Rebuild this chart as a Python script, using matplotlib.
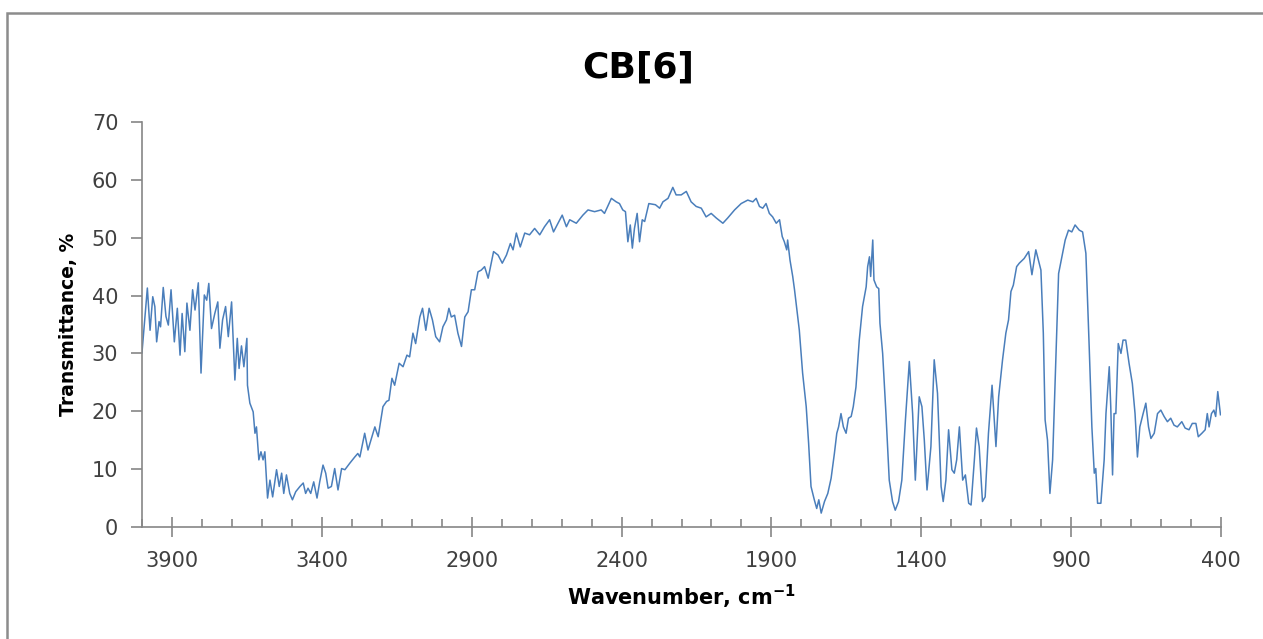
import matplotlib
matplotlib.use("Agg")
import matplotlib.pyplot as plt
from matplotlib.patches import Rectangle
from matplotlib.ticker import MultipleLocator, FixedLocator

plt.rcParams["font.family"] = "DejaVu Sans"
plt.rcParams["mathtext.fontset"] = "dejavusans"

# IR spectrum of CB[6] (wavenumber, %T)
wavenumber = [
    4000, 3982, 3973, 3964, 3957, 3951, 3943, 3938, 3929, 3920, 3912, 3903, 3892, 3882,
    3873, 3866, 3857, 3850, 3840, 3831, 3823, 3812, 3803, 3792, 3784, 3777, 3768, 3757,
    3747, 3740, 3731, 3721, 3712, 3701, 3690, 3682, 3676, 3668, 3660, 3650, 3648, 3640,
    3629, 3623, 3618, 3610, 3603, 3596, 3590, 3581, 3573, 3564, 3551, 3542, 3534, 3527,
    3518, 3507, 3498, 3487, 3473, 3462, 3454, 3446, 3437, 3427, 3416, 3407, 3396, 3387,
    3379, 3368, 3357, 3346, 3334, 3323, 3307, 3290, 3280, 3273, 3257, 3246, 3223, 3212,
    3196, 3184, 3176, 3166, 3157, 3142, 3129, 3116, 3107, 3096, 3087, 3073, 3064, 3053,
    3042, 3031, 3020, 3007, 2996, 2984, 2976, 2968, 2957, 2946, 2934, 2923, 2912, 2901,
    2890, 2879, 2868, 2857, 2845, 2827, 2812, 2798, 2784, 2771, 2762, 2751, 2738, 2723,
    2707, 2690, 2673, 2657, 2640, 2627, 2612, 2598, 2584, 2573, 2551, 2529, 2512, 2490,
    2468, 2457, 2434, 2418, 2407, 2396, 2387, 2379, 2371, 2364, 2357, 2348, 2340, 2331,
    2323, 2309, 2287, 2273, 2262, 2245, 2229, 2218, 2201, 2184, 2168, 2151, 2134, 2118,
    2101, 2084, 2062, 2046, 2023, 2001, 1979, 1962, 1951, 1940, 1929, 1918, 1907, 1896,
    1884, 1873, 1864, 1857, 1849, 1846, 1838, 1829, 1823, 1807, 1796, 1784, 1776, 1768,
    1757, 1749, 1742, 1734, 1723, 1712, 1701, 1690, 1682, 1676, 1668, 1660, 1651, 1643,
    1634, 1627, 1618, 1607, 1596, 1584, 1579, 1573, 1569, 1562, 1558, 1549, 1542, 1538,
    1529, 1518, 1507, 1496, 1487, 1476, 1465, 1453, 1440, 1429, 1420, 1407, 1398, 1390,
    1381, 1368, 1357, 1346, 1334, 1327, 1318, 1309, 1298, 1290, 1282, 1273, 1262, 1253,
    1242, 1234, 1223, 1216, 1207, 1196, 1187, 1176, 1164, 1151, 1142, 1129, 1118, 1109,
    1101, 1093, 1082, 1073, 1057, 1042, 1031, 1018, 1001, 993, 987, 979, 971, 962,
    951, 942, 931, 920, 909, 898, 887, 873, 862, 851, 840, 831, 823, 818,
    812, 801, 790, 784, 773, 768, 762, 757, 751, 743, 734, 727, 718, 707,
    696, 687, 679, 671, 660, 651, 642, 634, 623, 612, 601, 590, 579, 568,
    557, 546, 531, 520, 507, 496, 484, 476, 464, 453, 446, 440, 432, 424,
    418, 411, 402,
]
transmittance = [
    30.1, 41.3, 34.0, 39.8, 38.1, 32.0, 35.5, 34.6, 41.4, 36.4, 34.9, 41.0, 32.0, 37.8,
    29.7, 36.9, 30.3, 38.7, 34.0, 41.0, 37.5, 42.2, 26.6, 40.1, 39.2, 42.1, 34.3, 36.9,
    38.9, 30.9, 35.8, 38.1, 32.9, 38.9, 25.4, 32.6, 27.4, 31.3, 27.7, 32.6, 24.5, 21.4,
    19.9, 16.2, 17.3, 11.6, 13.0, 11.6, 13.0, 5.0, 8.1, 5.2, 9.9, 7.0, 9.3, 5.8,
    9.0, 5.8, 4.7, 6.1, 7.0, 7.6, 5.8, 6.7, 5.8, 7.8, 5.0, 7.8, 10.7, 9.3,
    6.7, 7.0, 10.1, 6.4, 10.1, 9.9, 11.0, 12.1, 12.7, 12.1, 16.2, 13.3, 17.3, 15.6,
    20.8, 21.7, 21.9, 25.7, 24.5, 28.3, 27.7, 29.7, 29.4, 33.5, 31.7, 36.3, 37.8, 34.0,
    37.8, 35.8, 32.9, 32.0, 34.6, 35.8, 37.8, 36.3, 36.6, 33.5, 31.2, 36.3, 37.2, 41.0,
    41.0, 44.1, 44.4, 45.0, 43.0, 47.6, 47.0, 45.6, 47.0, 49.0, 47.9, 50.8, 48.4, 50.8,
    50.5, 51.6, 50.5, 51.9, 53.1, 51.0, 52.5, 53.9, 51.9, 53.1, 52.5, 53.9, 54.8, 54.5,
    54.8, 54.2, 56.8, 56.2, 55.9, 54.8, 54.5, 49.3, 52.2, 48.2, 51.6, 54.2, 49.3, 53.1,
    52.8, 55.9, 55.7, 55.1, 56.2, 56.8, 58.7, 57.4, 57.4, 58.0, 56.2, 55.4, 55.1, 53.6,
    54.2, 53.4, 52.5, 53.4, 54.8, 55.9, 56.5, 56.2, 56.8, 55.4, 55.1, 55.9, 54.2, 53.6,
    52.5, 53.1, 50.2, 49.3, 47.9, 49.6, 46.1, 43.3, 41.0, 34.0, 26.6, 20.8, 14.5, 7.0,
    4.7, 3.2, 4.7, 2.4, 4.4, 5.8, 8.4, 12.7, 16.2, 17.3, 19.6, 17.3, 16.2, 18.8,
    19.1, 20.8, 24.2, 32.3, 38.1, 41.5, 45.0, 46.7, 43.3, 49.6, 42.7, 41.5, 41.2, 35.2,
    30.0, 19.6, 8.1, 4.4, 2.9, 4.4, 8.1, 18.5, 28.6, 19.6, 8.1, 22.5, 20.8, 15.0,
    6.4, 13.9, 28.9, 23.1, 7.0, 4.4, 8.1, 16.8, 9.9, 9.3, 11.6, 17.3, 8.1, 9.0,
    4.1, 3.8, 11.6, 17.1, 13.9, 4.4, 5.2, 16.2, 24.5, 13.9, 22.5, 28.9, 33.5, 35.8,
    40.7, 41.8, 45.0, 45.6, 46.4, 47.6, 43.6, 47.9, 44.4, 33.5, 18.5, 15.0, 5.8, 11.6,
    29.4, 43.8, 46.7, 49.6, 51.3, 51.0, 52.2, 51.3, 51.0, 47.3, 31.2, 17.3, 9.3, 10.1,
    4.1, 4.1, 11.6, 19.6, 27.7, 20.8, 9.0, 19.6, 19.6, 31.7, 30.0, 32.3, 32.3, 28.3,
    24.8, 19.6, 12.1, 17.3, 19.6, 21.4, 17.3, 15.3, 16.2, 19.6, 20.2, 19.1, 18.2, 18.8,
    17.6, 17.3, 18.2, 17.1, 16.8, 17.9, 17.9, 15.6, 16.2, 16.8, 19.6, 17.3, 19.6, 20.2,
    19.1, 23.4, 19.4,
]

x_major = [3900, 3400, 2900, 2400, 1900, 1400, 900, 400]

axis_grey = "#868686"
label_grey = "#404040"

fig = plt.figure(figsize=(12.63, 6.39), dpi=100)
ax = fig.add_axes([0.1124, 0.1753, 0.8544, 0.6338])

ax.plot(wavenumber, transmittance, color="#4a7ebb", lw=1.1)

ax.set_xlim(4000, 400)
ax.set_ylim(0, 70)
ax.xaxis.set_major_locator(FixedLocator(x_major))
ax.xaxis.set_minor_locator(MultipleLocator(100))
ax.yaxis.set_major_locator(MultipleLocator(10))

for side in ["top", "right"]:
    ax.spines[side].set_visible(False)
for side in ["left", "bottom"]:
    ax.spines[side].set_color(axis_grey)
    ax.spines[side].set_linewidth(1.2)

ax.tick_params(axis="y", which="major", direction="out", length=8, width=1.2,
               color=axis_grey, labelsize=15, labelcolor=label_grey, pad=9)
ax.tick_params(axis="x", which="major", direction="inout", length=14, width=1.2,
               color=axis_grey, labelsize=15, labelcolor=label_grey, pad=10)
ax.tick_params(axis="x", which="minor", direction="in", length=6, width=1.2,
               color=axis_grey)

fig.text(0.505, 1 - 68 / 639, "CB[6]", fontsize=26, fontweight="bold",
         ha="center", va="center")
ax.set_xlabel(r"Wavenumber, cm$^{\mathbf{-1}}$", fontsize=15, fontweight="bold", labelpad=9)
ax.set_ylabel("Transmittance, %", fontsize=13.5, fontweight="bold", labelpad=10)

# chart-area border, cut by the right and bottom edge of the image
fig.patches.append(Rectangle((7 / 1263, -0.1), 1.2, 1.1 - 13 / 639, transform=fig.transFigure,
                             fill=False, edgecolor="#8c8c8c", lw=1.8))

fig.savefig("out.png", dpi=100)
